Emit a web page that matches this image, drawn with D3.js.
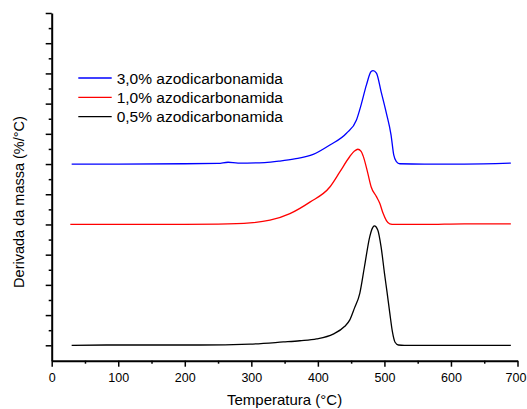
<!DOCTYPE html>
<html>
<head>
<meta charset="utf-8">
<script src="https://cdn.jsdelivr.net/npm/d3@7"></script>
<style>
  body { margin: 0; background: #fff; }
  text { font-family: Arial, "Liberation Sans", sans-serif; }
</style>
</head>
<body>
<script>
// data (temperature in C, derivative in arbitrary offset units)
var blueT = [30, 100, 200, 250, 265, 280, 320, 343, 365, 393, 418, 443, 458, 465, 473, 480, 483, 488, 495, 503, 510, 514, 518, 523, 560, 620, 690];
var blueV = [6.0, 6.0, 6.01, 6.02, 6.06, 6.03, 6.05, 6.10, 6.17, 6.32, 6.63, 7.02, 7.46, 7.96, 8.62, 9.06, 9.09, 9.01, 8.40, 7.68, 6.96, 6.30, 6.08, 6.01, 6.0, 6.0, 6.03];

var redT = [28, 100, 200, 250, 298, 328, 358, 388, 418, 433, 448, 455, 460, 465, 468, 475, 480, 488, 493, 498, 503, 508, 515, 560, 620, 690];
var redV = [4.0, 4.0, 4.0, 4.01, 4.05, 4.14, 4.36, 4.74, 5.24, 5.74, 6.25, 6.43, 6.49, 6.42, 6.27, 5.70, 5.25, 4.92, 4.70, 4.37, 4.13, 4.02, 4.0, 4.0, 4.02, 4.02];

var blackT = [30, 100, 223, 298, 348, 373, 398, 423, 440, 448, 455, 463, 470, 478, 482, 485, 490, 495, 500, 504, 508, 512, 516, 521, 530, 600, 690];
var blackV = [0.0, 0.01, 0.01, 0.04, 0.11, 0.15, 0.21, 0.37, 0.62, 0.84, 1.23, 1.72, 2.60, 3.60, 3.88, 3.95, 3.82, 3.26, 2.40, 1.75, 1.08, 0.45, 0.1, 0.01, 0.0, 0.0, 0.0];

var legendLabels = ["3,0% azodicarbonamida", "1,0% azodicarbonamida", "0,5% azodicarbonamida"];
var colors = ["#0000ff", "#ff0000", "#000000"];
var xTicks = [0, 100, 200, 300, 400, 500, 600, 700];

var width = 527, height = 409;
var svg = d3.select("body").append("svg")
  .attr("width", width)
  .attr("height", height);

var x = d3.scaleLinear().domain([0, 700]).range([51.7, 517.5]);
var y = d3.scaleLinear().domain([-0.51, 11]).range([360.7, 13]);

// minor ticks first
svg.append("g")
  .attr("transform", "translate(0,360.7)")
  .call(d3.axisBottom(x).tickValues(d3.range(50, 700, 100)).tickSize(3).tickFormat(""))
  .call(function(g) { g.select(".domain").remove(); });
svg.append("g")
  .attr("transform", "translate(51.7,0)")
  .call(d3.axisLeft(y).tickValues(d3.range(0.5, 11, 1)).tickSize(3).tickFormat(""))
  .call(function(g) { g.select(".domain").remove(); });

// main axes
var xAxis = svg.append("g")
  .attr("transform", "translate(0,360.7)")
  .call(d3.axisBottom(x).tickValues(xTicks).tickSize(6).tickSizeOuter(0).tickPadding(6));
xAxis.selectAll("text")
  .attr("font-size", 12.5)
  .attr("fill", "#000")
  .style("font-family", "Arial, 'Liberation Sans', sans-serif")
  .attr("dx", function(d) { return d === 700 ? -2 : 0; });

var yAxis = svg.append("g")
  .attr("transform", "translate(51.7,0)")
  .call(d3.axisLeft(y).tickValues(d3.range(0, 12, 1)).tickSize(6).tickSizeOuter(0).tickFormat(""));

svg.selectAll(".domain").attr("stroke", "#000").attr("stroke-width", 2);
svg.selectAll(".tick line").attr("stroke", "#000").attr("stroke-width", 1.5);

// axis titles
svg.append("text")
  .attr("x", 284.6)
  .attr("y", 405)
  .attr("text-anchor", "middle")
  .attr("font-size", 15)
  .text("Temperatura (°C)");

svg.append("text")
  .attr("transform", "translate(24,202) rotate(-90)")
  .attr("text-anchor", "middle")
  .attr("font-size", 14.5)
  .text("Derivada da massa (%/°C)");

// curves
var series = [
  { t: blueT, v: blueV },
  { t: redT, v: redV },
  { t: blackT, v: blackV }
];

var line = d3.line()
  .x(function(d) { return x(d[0]); })
  .y(function(d) { return y(d[1]); })
  .curve(d3.curveMonotoneX);

series.forEach(function(s, i) {
  svg.append("path")
    .datum(d3.zip(s.t, s.v))
    .attr("fill", "none")
    .attr("stroke", colors[i])
    .attr("stroke-width", 1.3)
    .attr("d", line);
});

// legend
var legend = svg.append("g");
legendLabels.forEach(function(lbl, i) {
  var ly = 78 + i * 19.3;
  legend.append("line")
    .attr("x1", 78.3).attr("x2", 111.7)
    .attr("y1", ly).attr("y2", ly)
    .attr("stroke", colors[i])
    .attr("stroke-width", 1.3);
  legend.append("text")
    .attr("x", 116.7)
    .attr("y", ly + 5.5)
    .attr("font-size", 15.5)
    .text(lbl);
});
</script>
</body>
</html>
